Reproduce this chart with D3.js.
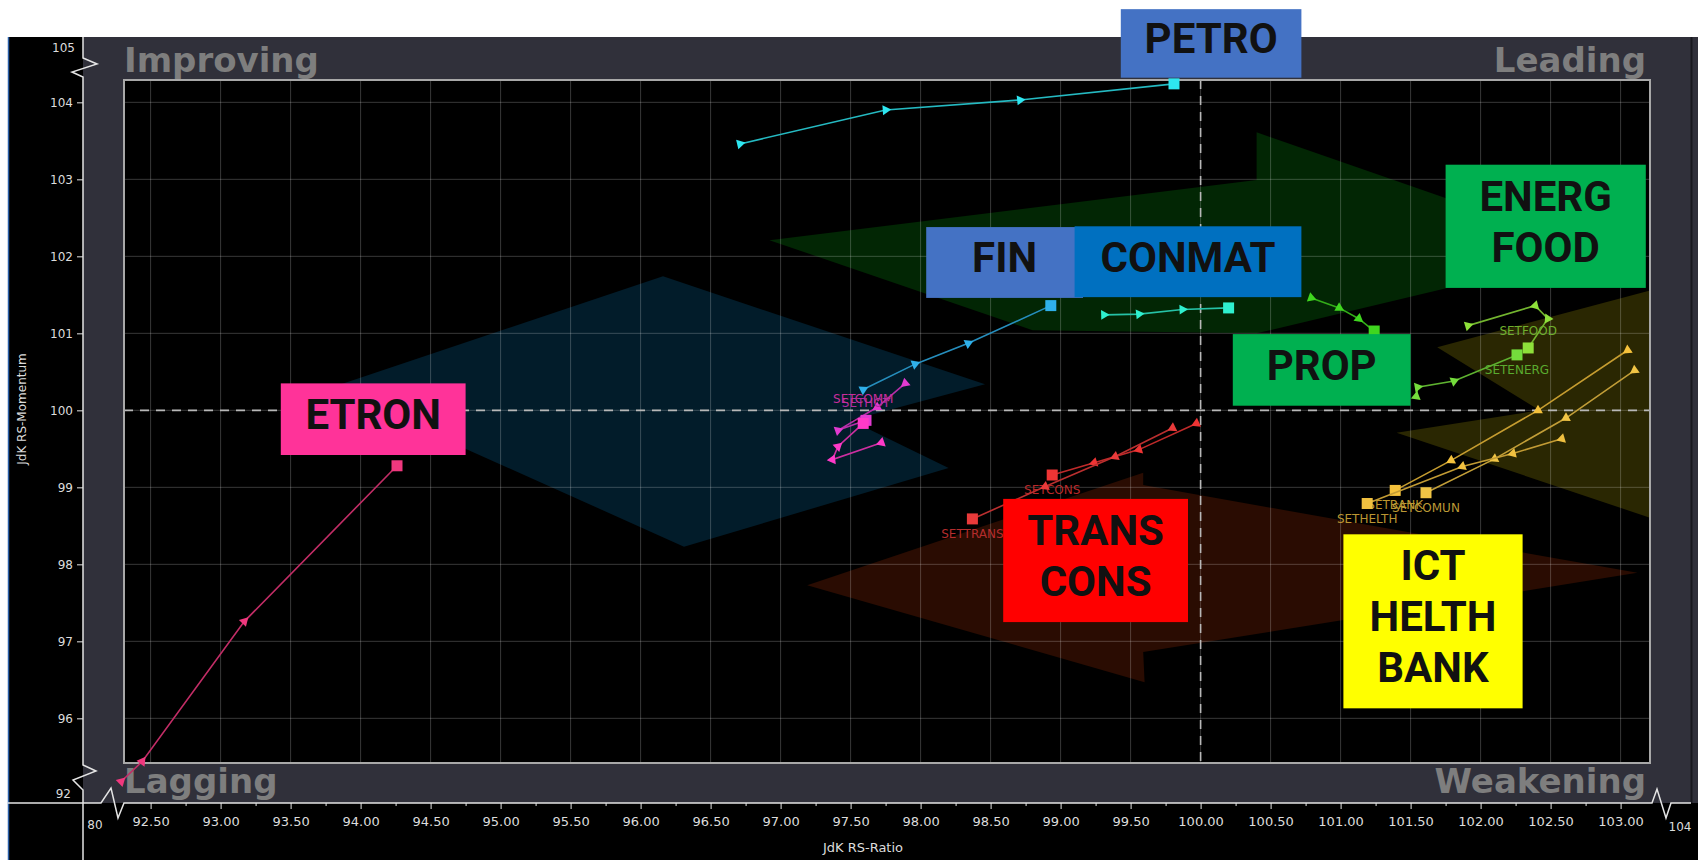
<!DOCTYPE html>
<html>
<head>
<meta charset="utf-8">
<script src="https://cdn.jsdelivr.net/npm/d3@7"></script>
<style>
  html, body { margin: 0; padding: 0; background: #fff; }
  svg { display: block; }
</style>
</head>
<body>
<div id="chart"></div>
<script>
/* RRG chart — SET sector indices, JdK RS-Ratio vs RS-Momentum. */

// ---- data ----
const tailNames = ["SETPETRO", "SETFIN", "SETCONMAT", "SETPROP", "SETFOOD", "SETENERG", "SETCONS",
  "SETTRANS", "SETETRON", "SETHOT", "SETCOMM", "SETBANK", "SETCOMUN", "SETHELTH"];
const tailRatio = [
  [96.71, 97.75, 98.71, 99.81],
  [97.59, 97.96, 98.34, 98.93],
  [99.31, 99.56, 99.87, 100.20],
  [100.79, 100.99, 101.13, 101.24],
  [101.91, 102.39, 102.48, 102.34],
  [101.54, 101.55, 101.81, 102.26],
  [99.97, 99.56, 99.24, 98.94],
  [99.80, 99.39, 98.89, 98.37],
  [92.29, 92.44, 93.17, 94.26],
  [97.89, 97.69, 97.41, 97.61],
  [97.72, 97.37, 97.41, 97.59],
  [103.05, 102.41, 101.79, 101.39],
  [103.10, 102.61, 102.10, 101.61],
  [102.58, 102.23, 101.87, 101.19]
];
const tailMomentum = [
  [103.46, 103.90, 104.03, 104.24],
  [100.27, 100.60, 100.87, 101.36],
  [101.24, 101.25, 101.31, 101.33],
  [101.46, 101.33, 101.19, 101.03],
  [101.10, 101.36, 101.19, 100.81],
  [100.18, 100.30, 100.38, 100.72],
  [99.83, 99.49, 99.32, 99.16],
  [99.77, 99.40, 99.01, 98.59],
  [95.18, 95.44, 97.26, 99.28],
  [100.35, 100.04, 99.74, 99.87],
  [99.58, 99.36, 99.53, 99.83],
  [100.78, 100.00, 99.35, 98.96],
  [100.52, 99.90, 99.37, 98.93],
  [99.63, 99.44, 99.27, 98.79]
];
const tailColors = ["#2ee6f0", "#2fb0ea", "#2ff0cf", "#3fd61f", "#8ee03a", "#74dc3c", "#ee3434",
  "#e83a3a", "#f0387e", "#e23ad0", "#ff3ac8", "#f5c23c", "#f0c445", "#f0c040"];

const xTicks = [92.5, 93, 93.5, 94, 94.5, 95, 95.5, 96, 96.5, 97, 97.5, 98, 98.5, 99, 99.5,
  100, 100.5, 101, 101.5, 102, 102.5, 103];
const yTicks = [96, 97, 98, 99, 100, 101, 102, 103, 104];
const quadrants = ["Improving", "Leading", "Lagging", "Weakening"];

// group call-outs laid over the tails
const calloutText = [["PETRO"], ["FIN"], ["CONMAT"], ["PROP"], ["ENERG", "FOOD"], ["ETRON"],
  ["TRANS", "CONS"], ["ICT", "HELTH", "BANK"]];

// ---- layout / styling ----
const W = 1698, H = 860;
const P = { l: 124, r: 1650, t: 80, b: 763 };       // inner plot
const F = { l: 83, r: 1691, t: 37, axis: 803 };    // grey frame and axis lines

const x = d3.scaleLinear().domain([92.31, 103.21]).range([P.l, P.r]);
const y = d3.scaleLinear().domain([95.42, 104.29]).range([P.b, P.t]);

// label above (-) or below (+) the latest square
const labelSide = { SETPETRO: -1, SETFIN: -1, SETCONMAT: -1, SETFOOD: -1, SETHOT: -1, SETCOMM: -1.6, SETETRON: -1 };
const calloutBox = [
  { fill: "#4472c4", x: [99.43, 100.72], y: [104.32, 105.21] },
  { fill: "#4472c4", x: [98.04, 99.16], y: [101.46, 102.38] },
  { fill: "#0070c0", x: [99.10, 100.72], y: [101.47, 102.39] },
  { fill: "#00b050", x: [100.23, 101.50], y: [100.06, 100.99] },
  { fill: "#00b050", x: [101.75, 103.18], y: [101.59, 103.19] },
  { fill: "#ff3399", x: [93.43, 94.75], y: [99.42, 100.35] },
  { fill: "#ff0000", x: [98.59, 99.91], y: [97.25, 98.85] },
  { fill: "#ffff00", x: [101.02, 102.30], y: [96.13, 98.39] }
];
const rotation = [
  { fill: "#021c2a", pts: [[93.78, 100.29], [96.16, 101.74], [98.46, 100.34], [97.50, 99.87], [98.20, 99.25], [96.31, 98.23]] },
  { fill: "#022604", pts: [[96.92, 102.21], [100.40, 102.99], [100.40, 103.61], [102.85, 102.06], [100.40, 101.00], [98.80, 101.04]] },
  { fill: "#2a0c02", pts: [[97.19, 97.73], [99.59, 99.19], [99.59, 99.03], [103.12, 97.89], [99.59, 96.86], [99.60, 96.47]] },
  { fill: "#2a2702", pts: [[103.3, 101.60], [101.69, 100.82], [102.42, 100.00], [101.40, 99.71], [103.3, 98.55]] }
];

const svg = d3.select("#chart").append("svg").attr("width", W).attr("height", H);
const font = "'DejaVu Sans', Verdana, sans-serif";

svg.append("rect").attr("width", W).attr("height", H).attr("fill", "#fff");
svg.append("rect").attr("x", 8).attr("y", F.t).attr("width", W - 8).attr("height", H - F.t).attr("fill", "#000");
svg.append("line").attr("x1", 8.5).attr("x2", 8.5).attr("y1", F.t).attr("y2", H)
  .attr("stroke", "#2a5fa8").attr("stroke-width", 1.5);
svg.append("rect").attr("x", F.l).attr("y", F.t).attr("width", W - F.l).attr("height", F.axis - F.t)
  .attr("fill", "#30303a");
svg.append("line").attr("x1", F.r + 0.5).attr("x2", F.r + 0.5).attr("y1", F.t).attr("y2", F.axis)
  .attr("stroke", "#18181e").attr("stroke-width", 2);
svg.append("rect").attr("x", P.l).attr("y", P.t).attr("width", P.r - P.l).attr("height", P.b - P.t)
  .attr("fill", "#000");

svg.append("clipPath").attr("id", "plotclip").append("rect")
  .attr("x", P.l).attr("y", P.t).attr("width", P.r - P.l).attr("height", P.b - P.t);
const inner = svg.append("g").attr("clip-path", "url(#plotclip)");

// rotation arrows behind everything
inner.selectAll("path.rot").data(rotation).join("path").attr("class", "rot")
  .attr("d", r => "M" + r.pts.map(p => [x(p[0]), y(p[1])].join(",")).join("L") + "Z")
  .attr("fill", r => r.fill);

// grid
inner.selectAll("line.vg").data(xTicks).join("line").attr("class", "vg")
  .attr("x1", d => x(d)).attr("x2", d => x(d)).attr("y1", P.t).attr("y2", P.b)
  .attr("stroke", "#fff").attr("stroke-opacity", 0.22).attr("stroke-width", 1);
inner.selectAll("line.hg").data(yTicks).join("line").attr("class", "hg")
  .attr("x1", P.l).attr("x2", P.r).attr("y1", d => y(d)).attr("y2", d => y(d))
  .attr("stroke", "#fff").attr("stroke-opacity", 0.22).attr("stroke-width", 1);
inner.append("line").attr("x1", x(100)).attr("x2", x(100)).attr("y1", P.t).attr("y2", P.b)
  .attr("stroke", "#b8b8b8").attr("stroke-width", 1.6).attr("stroke-dasharray", "9,7");
inner.append("line").attr("x1", P.l).attr("x2", P.r).attr("y1", y(100)).attr("y2", y(100))
  .attr("stroke", "#b8b8b8").attr("stroke-width", 1.6).attr("stroke-dasharray", "9,7");

svg.append("rect").attr("x", P.l).attr("y", P.t).attr("width", P.r - P.l).attr("height", P.b - P.t)
  .attr("fill", "none").attr("stroke", "#a8a8a8").attr("stroke-width", 2);

// quadrant names
const qPos = [[P.l, 72, "start"], [P.r - 4, 72, "end"], [P.l, 793, "start"], [P.r - 4, 793, "end"]];
svg.selectAll("text.quad").data(quadrants).join("text").attr("class", "quad")
  .attr("x", (d, i) => qPos[i][0]).attr("y", (d, i) => qPos[i][1])
  .attr("text-anchor", (d, i) => qPos[i][2])
  .attr("font-family", font).attr("font-weight", "bold").attr("font-size", 34)
  .attr("fill", "#7e7e7e").text(d => d);

// axes
const axisCol = "#e4e4e4";
const yAx = svg.append("g").attr("transform", `translate(${F.l},0)`)
  .call(d3.axisLeft(y).tickValues(yTicks).tickSize(6).tickPadding(4).tickFormat(d3.format("d")));
const xAx = svg.append("g").attr("transform", `translate(0,${F.axis})`)
  .call(d3.axisBottom(x).tickValues(xTicks).tickSize(6).tickPadding(8).tickFormat(d3.format(".2f")));
const xMinor = svg.append("g").attr("transform", `translate(0,${F.axis})`)
  .call(d3.axisBottom(x).tickValues(xTicks.map(v => v + 0.25).filter(v => v < 103.2)).tickSize(3).tickFormat(""));
[yAx, xAx, xMinor].forEach(g => {
  g.select(".domain").remove();
  g.selectAll("line").attr("stroke", axisCol);
  g.selectAll("text").attr("fill", "#dcdcdc").attr("font-family", font);
});
yAx.selectAll("text").attr("font-size", 12);
xAx.selectAll("text").attr("font-size", 13);

// broken axis lines
const ax = F.l, ay = F.axis;
svg.append("path").attr("fill", "none").attr("stroke", axisCol).attr("stroke-width", 1.5)
  .attr("d", `M${ax},${F.t}V58L${ax + 14},64L${ax - 11},72L${ax},77V765L${ax + 13},771L${ax - 10},780L${ax},790V${H}`);
svg.append("path").attr("fill", "none").attr("stroke", axisCol).attr("stroke-width", 1.5)
  .attr("d", `M8,${ay}H101L111,${ay - 15}L118,${ay + 15}L124,${ay}H1652L1657,${ay - 14}L1666,${ay + 15}L1671,${ay}H${F.r}`);

const breakLbl = [["105", ax - 8, 52, "end"], ["92", ax - 12, 798, "end"], ["80", 95, 829, "middle"], ["104", 1680, 831, "middle"]];
svg.selectAll("text.brk").data(breakLbl).join("text").attr("class", "brk")
  .attr("x", d => d[1]).attr("y", d => d[2]).attr("text-anchor", d => d[3])
  .attr("font-family", font).attr("font-size", 12).attr("fill", "#dcdcdc").text(d => d[0]);

svg.append("text").attr("x", 863).attr("y", 852).attr("text-anchor", "middle")
  .attr("font-family", font).attr("font-size", 13).attr("fill", "#dcdcdc").text("JdK RS-Ratio");
svg.append("text").attr("transform", "translate(26,409) rotate(-90)").attr("text-anchor", "middle")
  .attr("font-family", font).attr("font-size", 12).attr("fill", "#dcdcdc").text("JdK RS-Momentum");

// tails
const tails = tailNames.map((name, i) => ({
  name, color: tailColors[i],
  pts: tailRatio[i].map((r, j) => ({ r, m: tailMomentum[i][j] }))
}));
const line = d3.line().x(p => x(p.r)).y(p => y(p.m));
const gT = svg.append("g");
tails.forEach(t => {
  const g = gT.append("g");
  g.append("path").attr("d", line(t.pts)).attr("fill", "none")
    .attr("stroke", d3.color(t.color).darker(0.6)).attr("stroke-width", 1.6);
  const heads = t.pts.slice(0, -1).map((p, j) => {
    const q = t.pts[j + 1];
    const ang = Math.atan2(y(q.m) - y(p.m), x(q.r) - x(p.r)) * 180 / Math.PI + 90;
    return { p, ang };
  });
  g.selectAll("path.tri").data(heads).join("path").attr("class", "tri")
    .attr("d", d3.symbol(d3.symbolTriangle, 42))
    .attr("transform", d => `translate(${x(d.p.r)},${y(d.p.m)}) rotate(${d.ang})`)
    .attr("fill", t.color);
  const last = t.pts[t.pts.length - 1];
  const side = labelSide[t.name] || 1;
  g.append("text").attr("x", x(last.r)).attr("y", y(last.m) + (side > 0 ? 19 : 13 * side))
    .attr("text-anchor", "middle").attr("font-family", font).attr("font-size", 12)
    .attr("fill", d3.color(t.color).darker(0.7)).text(t.name);
  g.append("rect").attr("x", x(last.r) - 5.5).attr("y", y(last.m) - 5.5).attr("width", 11).attr("height", 11)
    .attr("fill", t.color);
});

// call-outs
const gC = svg.append("g");
calloutText.forEach((lines, i) => {
  const b = calloutBox[i];
  const x0 = x(b.x[0]), x1 = x(b.x[1]), y0 = y(b.y[1]), y1 = y(b.y[0]);
  gC.append("rect").attr("x", x0).attr("y", y0).attr("width", x1 - x0).attr("height", y1 - y0).attr("fill", b.fill);
  const cy = (y0 + y1) / 2;
  gC.selectAll(null).data(lines).join("text")
    .attr("x", (x0 + x1) / 2).attr("y", (d, k) => cy + (k - (lines.length - 1) / 2) * 51 + 10)
    .attr("text-anchor", "middle").attr("font-family", "Roboto, 'Open Sans', sans-serif")
    .attr("font-weight", "bold").attr("font-size", 42).attr("fill", "#111").text(d => d);
});
</script>
</body>
</html>
